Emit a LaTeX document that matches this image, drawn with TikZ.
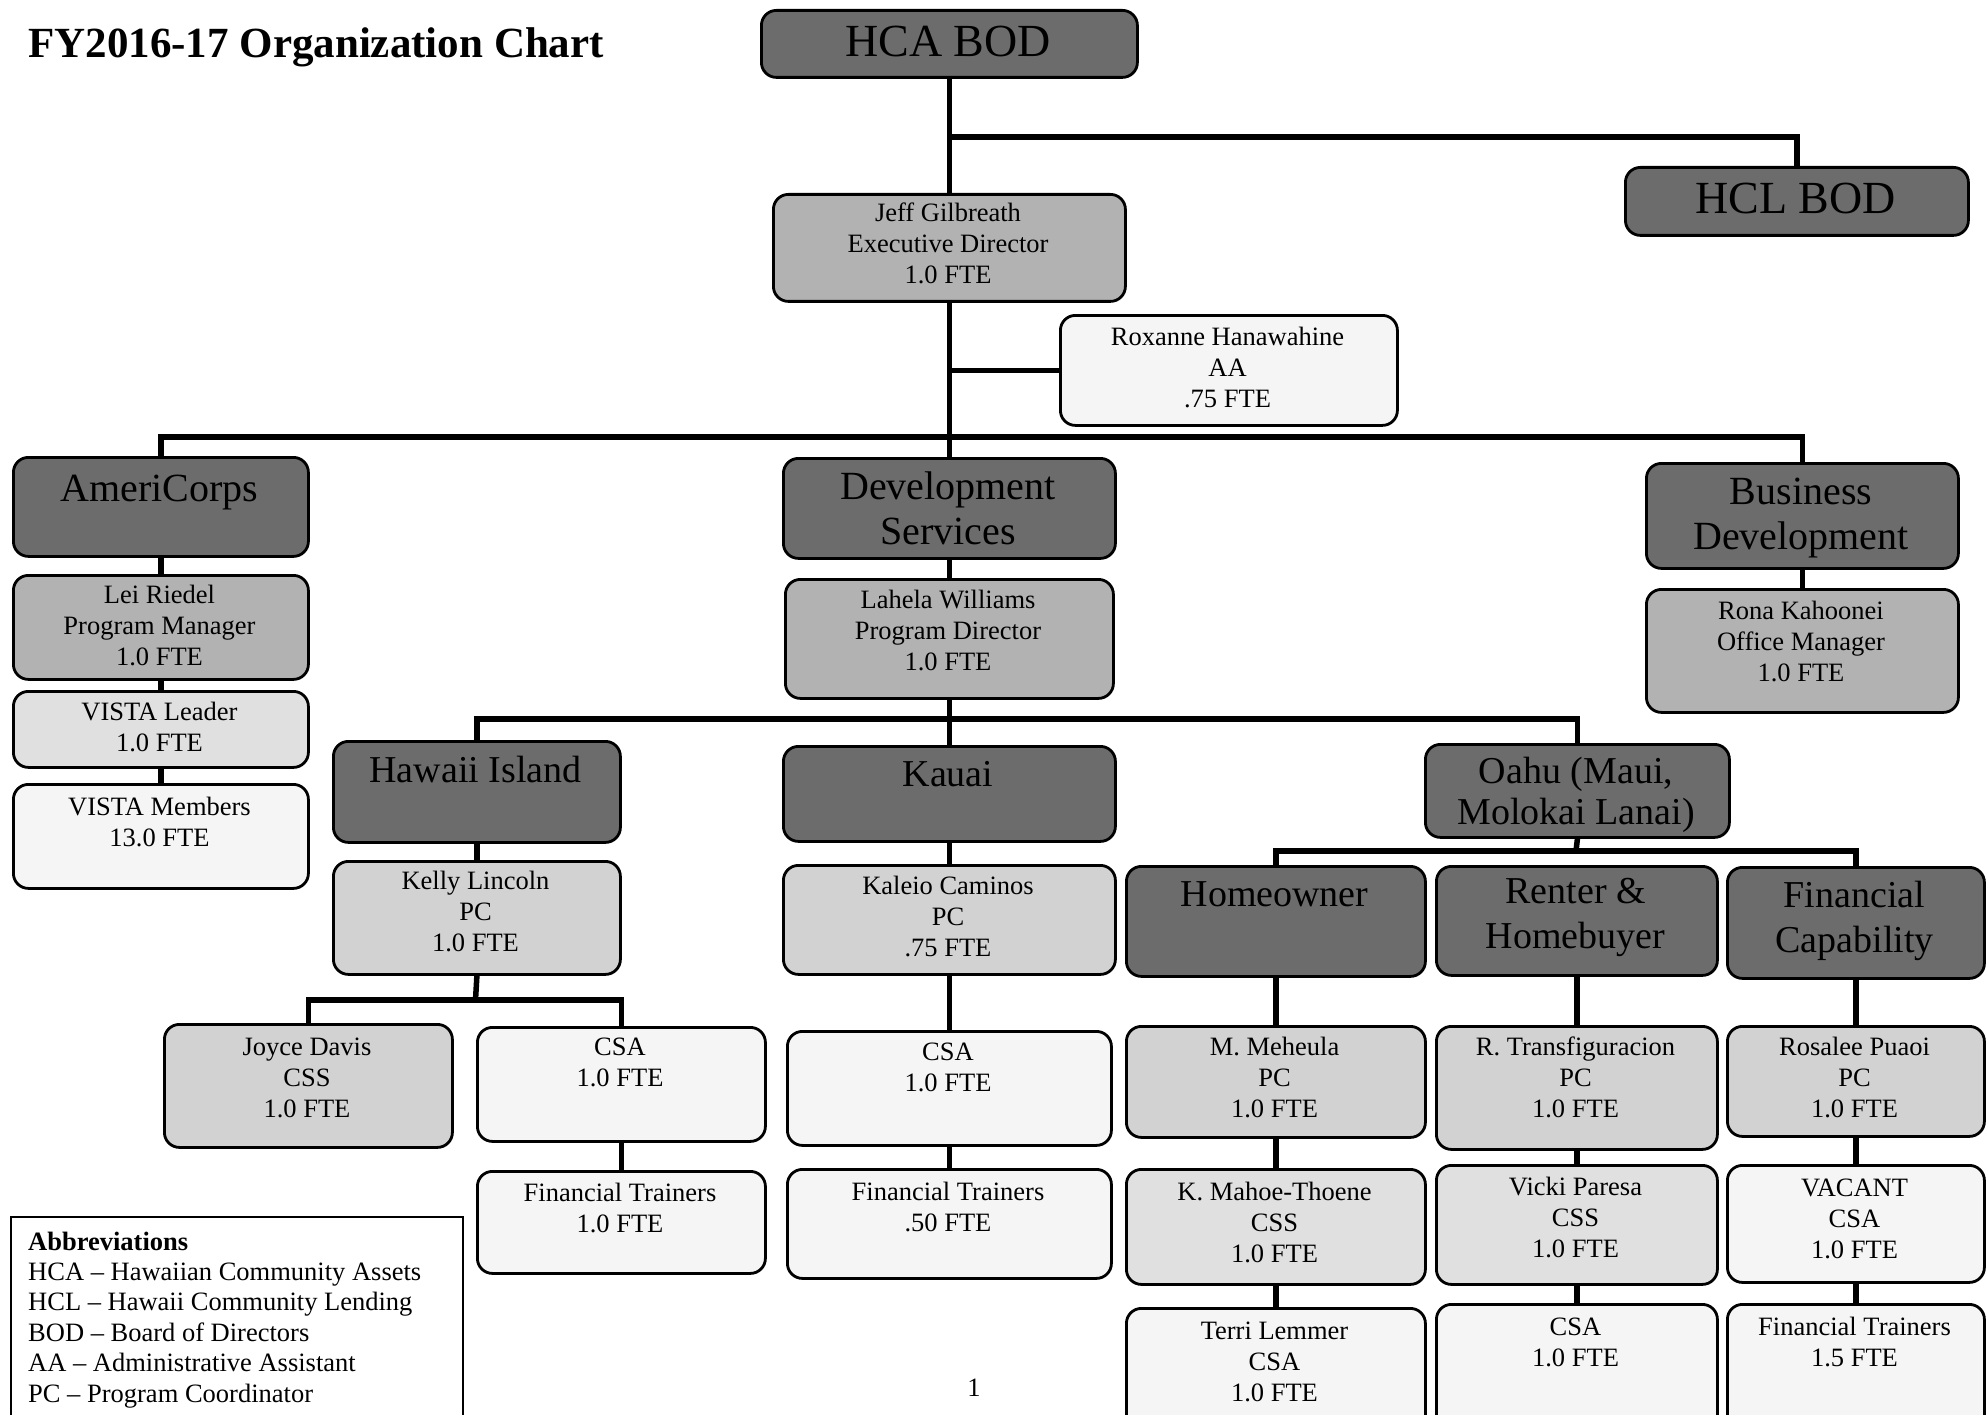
\documentclass[tikz,border=0pt]{standalone}
\usepackage{fontspec}
\setmainfont{Liberation Serif}
\definecolor{cdark}{RGB}{108,108,108}
\definecolor{cmed}{RGB}{178,178,178}
\definecolor{clight}{RGB}{210,210,210}
\definecolor{clighter}{RGB}{224,224,224}
\definecolor{cpale}{RGB}{245,245,245}
\pgfdeclarelayer{bg}
\pgfsetlayers{bg,main}
\tikzset{
  boxbase/.style={draw=black, line width=2.8pt, rounded corners=15pt, inner sep=0pt},
  darkbox/.style={boxbase, fill=cdark},
  medbox/.style={boxbase, fill=cmed},
  lightbox/.style={boxbase, fill=clight},
  lighterbox/.style={boxbase, fill=clighter},
  palebox/.style={boxbase, fill=cpale},
  hugetxt/.style={inner sep=0pt, font=\fontsize{46}{50}\selectfont},
  bigtxt/.style={inner sep=0pt, font=\fontsize{40}{45}\selectfont},
  oahutxt/.style={inner sep=0pt, font=\fontsize{38}{41}\selectfont},
  midtxt/.style={inner sep=0pt, font=\fontsize{38}{45}\selectfont},
  smalltxt/.style={inner sep=0pt, font=\fontsize{26.5}{31}\selectfont},
  conn/.style={draw=black, line width=5.5pt}
}
% style, text style, name, x1, y1, x2, y2, first baseline, text
\newcommand\obox[9]{%
  \node[#1, minimum width={(#6)-(#4)}, minimum height={(#7)-(#5)}, anchor=north west] (#3) at (#4,#5) {};
  \node[#2, anchor=base] (#3t) at ({((#4)+(#6))/2},#8) {\begin{tabular}[t]{@{}c@{}}#9\end{tabular}};
}
\begin{document}
\begin{tikzpicture}[x=1pt,y=-1pt]
\useasboundingbox (0,0) rectangle (1986,1415);
\clip (0,0) rectangle (1986,1415);

\node[anchor=base west, inner sep=0pt, font=\bfseries\fontsize{43}{50}\selectfont] (title) at (28,58) {FY2016-17 Organization Chart};

% top
\obox{darkbox}{hugetxt}{hca}{760}{9}{1136}{76}{57}{HCA BOD}
\obox{darkbox}{hugetxt}{hcl}{1624}{166}{1967}{234}{214}{HCL BOD}
\obox{medbox}{smalltxt}{jeff}{772}{193}{1124}{300}{222}{Jeff Gilbreath\\Executive Director\\1.0 FTE}
\obox{palebox}{smalltxt}{rox}{1059}{314}{1396}{424}{345}{Roxanne Hanawahine\\AA\\.75 FTE}

% AmeriCorps column
\obox{darkbox}{bigtxt}{ameri}{12}{456}{307}{555}{501}{AmeriCorps}
\obox{medbox}{smalltxt}{lei}{12}{574}{307}{678}{603}{Lei Riedel\\Program Manager\\1.0 FTE}
\obox{lighterbox}{smalltxt}{vl}{12}{690}{307}{766}{720}{VISTA Leader\\1.0 FTE}
\obox{palebox}{smalltxt}{vm}{12}{783}{307}{887}{815}{VISTA Members\\13.0 FTE}

% Development services
\obox{darkbox}{bigtxt}{dev}{782}{457}{1114}{557}{499}{Development\\Services}
\obox{medbox}{smalltxt}{lahela}{784}{578}{1112}{697}{608}{Lahela Williams\\Program Director\\1.0 FTE}

% Business development
\obox{darkbox}{bigtxt}{busdev}{1645}{462}{1957}{567}{504}{Business\\Development}
\obox{medbox}{smalltxt}{rona}{1645}{588}{1957}{711}{619}{Rona Kahoonei\\Office Manager\\1.0 FTE}

% Islands
\obox{darkbox}{midtxt}{hawaii}{332}{740}{619}{841}{782}{Hawaii Island}
\obox{darkbox}{midtxt}{kauai}{782}{745}{1114}{840}{786}{Kauai}
\obox{darkbox}{oahutxt}{oahu}{1424}{743}{1728}{836}{783}{Oahu (Maui,\\Molokai Lanai)}

\obox{lightbox}{smalltxt}{kelly}{332}{860}{619}{973}{889}{Kelly Lincoln\\PC\\1.0 FTE}
\obox{lightbox}{smalltxt}{kaleio}{782}{864}{1114}{973}{894}{Kaleio Caminos\\PC\\.75 FTE}

\obox{lightbox}{smalltxt}{joyce}{163}{1023}{451}{1146}{1055}{Joyce Davis\\CSS\\1.0 FTE}
\obox{palebox}{smalltxt}{csah}{476}{1026}{764}{1140}{1055}{CSA\\1.0 FTE}
\obox{palebox}{smalltxt}{fth}{476}{1170}{764}{1272}{1201}{Financial Trainers\\1.0 FTE}

\obox{palebox}{smalltxt}{csak}{786}{1030}{1110}{1144}{1060}{CSA\\1.0 FTE}
\obox{palebox}{smalltxt}{ftk}{786}{1168}{1110}{1277}{1200}{Financial Trainers\\.50 FTE}

% Oahu programs
\obox{darkbox}{midtxt}{home}{1125}{865}{1424}{975}{906}{Homeowner}
\obox{darkbox}{midtxt}{rent}{1435}{865}{1716}{974}{903}{Renter \&\\Homebuyer}
\obox{darkbox}{midtxt}{fincap}{1726}{866}{1983}{977}{907}{Financial\\Capability}

\obox{lightbox}{smalltxt}{mm}{1125}{1025}{1424}{1136}{1055}{M. Meheula\\PC\\1.0 FTE}
\obox{lightbox}{smalltxt}{rt}{1435}{1025}{1716}{1148}{1055}{R. Transfiguracion\\PC\\1.0 FTE}
\obox{lightbox}{smalltxt}{rp}{1726}{1025}{1983}{1135}{1055}{Rosalee Puaoi\\PC\\1.0 FTE}

\obox{lighterbox}{smalltxt}{km}{1125}{1168}{1424}{1283}{1200}{K. Mahoe-Thoene\\CSS\\1.0 FTE}
\obox{lighterbox}{smalltxt}{vp}{1435}{1164}{1716}{1283}{1195}{Vicki Paresa\\CSS\\1.0 FTE}
\obox{palebox}{smalltxt}{vac}{1726}{1164}{1983}{1281}{1196}{VACANT\\CSA\\1.0 FTE}

\obox{palebox}{smalltxt}{tl}{1125}{1307}{1424}{1430}{1339}{Terri Lemmer\\CSA\\1.0 FTE}
\obox{palebox}{smalltxt}{csar}{1435}{1303}{1716}{1430}{1335}{CSA\\1.0 FTE}
\obox{palebox}{smalltxt}{ftf}{1726}{1303}{1983}{1430}{1335}{Financial Trainers\\1.5 FTE}

% abbreviations
\node[draw=black, line width=2pt, fill=white, minimum width=452pt, minimum height=240pt, anchor=north west, inner sep=0pt] (abbr) at (10,1216) {};
\node[anchor=base west, inner sep=0pt, font=\fontsize{26.5}{30.4}\selectfont] (abbrt) at (28,1250) {\begin{tabular}[t]{@{}l@{}}\textbf{Abbreviations}\\HCA – Hawaiian Community Assets\\HCL – Hawaii Community Lending\\BOD – Board of Directors\\AA – Administrative Assistant\\PC – Program Coordinator\end{tabular}};

\node[anchor=base, inner sep=0pt, font=\fontsize{26.5}{31}\selectfont] (pnum) at (974,1396) {1};

% connectors
\begin{pgfonlayer}{bg}
\fill[white] (0,0) rectangle (1986,1415);
\draw[conn] (hca.south) -- (jeff.north);
\coordinate (hb) at (948,137);
\draw[conn] (hb) -| (hcl.north);
\draw[conn] (jeff.south) -- (dev.north);
\draw[conn] (rox.west) -- (rox.west -| jeff.south);
\coordinate (mj) at (948,437);
\draw[conn] (ameri.north) |- (mj) -| (busdev.north);
\draw[conn] (ameri.south) -- (lei.north);
\draw[conn] (lei.south) -- (vl.north);
\draw[conn] (vl.south) -- (vm.north);
\draw[conn] (dev.south) -- (lahela.north);
\draw[conn] (busdev.south) -- (rona.north);
\draw[conn] (lahela.south) -- (kauai.north);
\coordinate (dj) at (948,719);
\draw[conn] (hawaii.north) |- (dj) -| (oahu.north);
\draw[conn] (hawaii.south) -- (kelly.north);
\coordinate (kj) at (475.5,1000);
\draw[conn] (kelly.south) -- (kj);
\draw[conn] (joyce.north) |- (kj) -| (csah.north);
\draw[conn] (csah.south) -- (fth.north);
\draw[conn] (kauai.south) -- (kaleio.north);
\draw[conn] (kaleio.south) -- (csak.north);
\draw[conn] (csak.south) -- (ftk.north);
\coordinate (oj) at (1576,851);
\draw[conn] (oahu.south) -- (oj);
\draw[conn] (home.north) |- (oj) -| (fincap.north);
\draw[conn] (home.south) -- (mm.north);
\draw[conn] (mm.south) -- (km.north);
\draw[conn] (km.south) -- (tl.north);
\draw[conn] (rent.south) -- (rt.north);
\draw[conn] (rt.south) -- (vp.north);
\draw[conn] (vp.south) -- (csar.north);
\draw[conn] (fincap.south) -- (rp.north);
\draw[conn] (rp.south) -- (vac.north);
\draw[conn] (vac.south) -- (ftf.north);
\end{pgfonlayer}
\end{tikzpicture}
\end{document}
